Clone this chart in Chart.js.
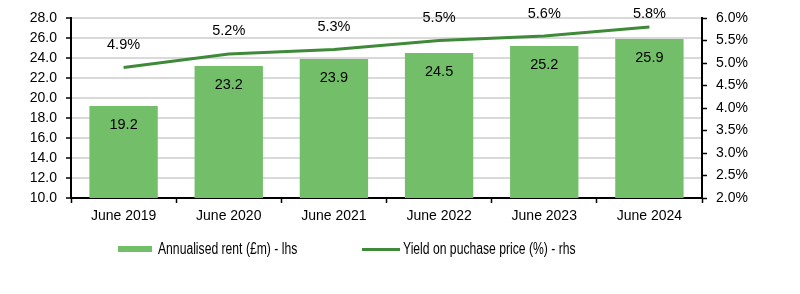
<!DOCTYPE html>
<html><head><meta charset="utf-8">
<script src="https://cdn.jsdelivr.net/npm/chart.js@4/dist/chart.umd.min.js"></script>
<style>
html,body{margin:0;padding:0;background:#fff;}
#wrap{position:relative;width:800px;height:294px;}
#legend{position:absolute;left:0;top:239px;width:800px;height:20px;font-family:"Liberation Sans",Arial,sans-serif;font-size:16px;color:#000;}
.li{position:absolute;top:0;height:20px;line-height:20px;white-space:nowrap;transform:scaleX(0.76);transform-origin:left center;}
.sw{position:absolute;}
</style></head>
<body>
<div id="wrap">
<canvas id="c" width="800" height="294"></canvas>
<div id="legend">
  <div class="sw" style="left:118px;top:7px;width:34px;height:6px;background:#73bf69;"></div>
  <div class="li" style="left:158px;">Annualised rent (£m) - lhs</div>
  <div class="sw" style="left:362px;top:9px;width:38px;height:3px;background:#3f8a39;"></div>
  <div class="li" style="left:403px;">Yield on puchase price (%) - rhs</div>
</div>
</div>
<script>
const categories = ["June 2019","June 2020","June 2021","June 2022","June 2023","June 2024"];
const rentValues = [19.2, 23.2, 23.9, 24.5, 25.2, 25.9];
const yieldValues = [4.9, 5.2, 5.3, 5.5, 5.6, 5.8];

const FONT = '"Liberation Sans",Arial,sans-serif';

const labelPlugin = {
  id: 'labels',
  afterDatasetsDraw(chart) {
    const ctx = chart.ctx;
    ctx.save();
    ctx.font = '14.5px ' + FONT;
    ctx.fillStyle = '#000';
    ctx.textAlign = 'center';
    ctx.textBaseline = 'middle';
    const barMeta = chart.getDatasetMeta(0);
    barMeta.data.forEach((el, i) => {
      ctx.fillText(rentValues[i].toFixed(1), el.x, el.y + 19);
    });
    const lineMeta = chart.getDatasetMeta(1);
    lineMeta.data.forEach((el, i) => {
      const y = Math.max(14, el.y - 23);
      ctx.fillText(yieldValues[i].toFixed(1) + '%', el.x, y);
    });
    ctx.restore();
  }
};

new Chart(document.getElementById('c'), {
  data: {
    labels: categories,
    datasets: [
      {
        type: 'bar',
        label: 'Annualised rent (£m) - lhs',
        data: rentValues,
        backgroundColor: '#73bf69',
        yAxisID: 'y',
        barPercentage: 0.65,
        categoryPercentage: 1,
        order: 2
      },
      {
        type: 'line',
        label: 'Yield on puchase price (%) - rhs',
        data: yieldValues,
        borderColor: '#3f8a39',
        borderWidth: 3,
        pointRadius: 0,
        tension: 0,
        yAxisID: 'y1',
        order: 1
      }
    ]
  },
  options: {
    responsive: false,
    animation: false,
    layout: { padding: { top: 18, left: 0, right: 0, bottom: 0 } },
    plugins: { legend: { display: false }, tooltip: { enabled: false } },
    scales: {
      x: {
        offset: true,
        grid: { offset: true, drawOnChartArea: false, drawTicks: true, tickLength: 5, tickColor: '#000', tickWidth: 1.5 },
        border: { color: '#000', width: 2 },
        ticks: { font: { family: FONT, size: 14 }, color: '#000', padding: 5, maxRotation: 0 },
        afterFit(s) { s.height = 96; }
      },
      y: {
        position: 'left',
        min: 10, max: 28,
        ticks: { stepSize: 2, autoSkip: false, font: { family: FONT, size: 14 }, color: '#000', padding: 9,
                 callback: v => v.toFixed(1) },
        grid: { color: '#d9d9d9', lineWidth: 2, drawTicks: true, tickLength: 5, tickColor: '#000', tickWidth: 1.5 },
        border: { color: '#000', width: 2 },
        afterFit(s) { s.width = 71; }
      },
      y1: {
        position: 'right',
        min: 2, max: 6,
        ticks: { stepSize: 0.5, autoSkip: false, font: { family: FONT, size: 14 }, color: '#000', padding: 9,
                 callback: v => v.toFixed(1) + '%' },
        grid: { drawOnChartArea: false, drawTicks: true, tickLength: 5, tickColor: '#000', tickWidth: 1.5 },
        border: { color: '#000', width: 2 },
        afterFit(s) { s.width = 98; }
      }
    }
  },
  plugins: [labelPlugin]
});
</script>
</body></html>
